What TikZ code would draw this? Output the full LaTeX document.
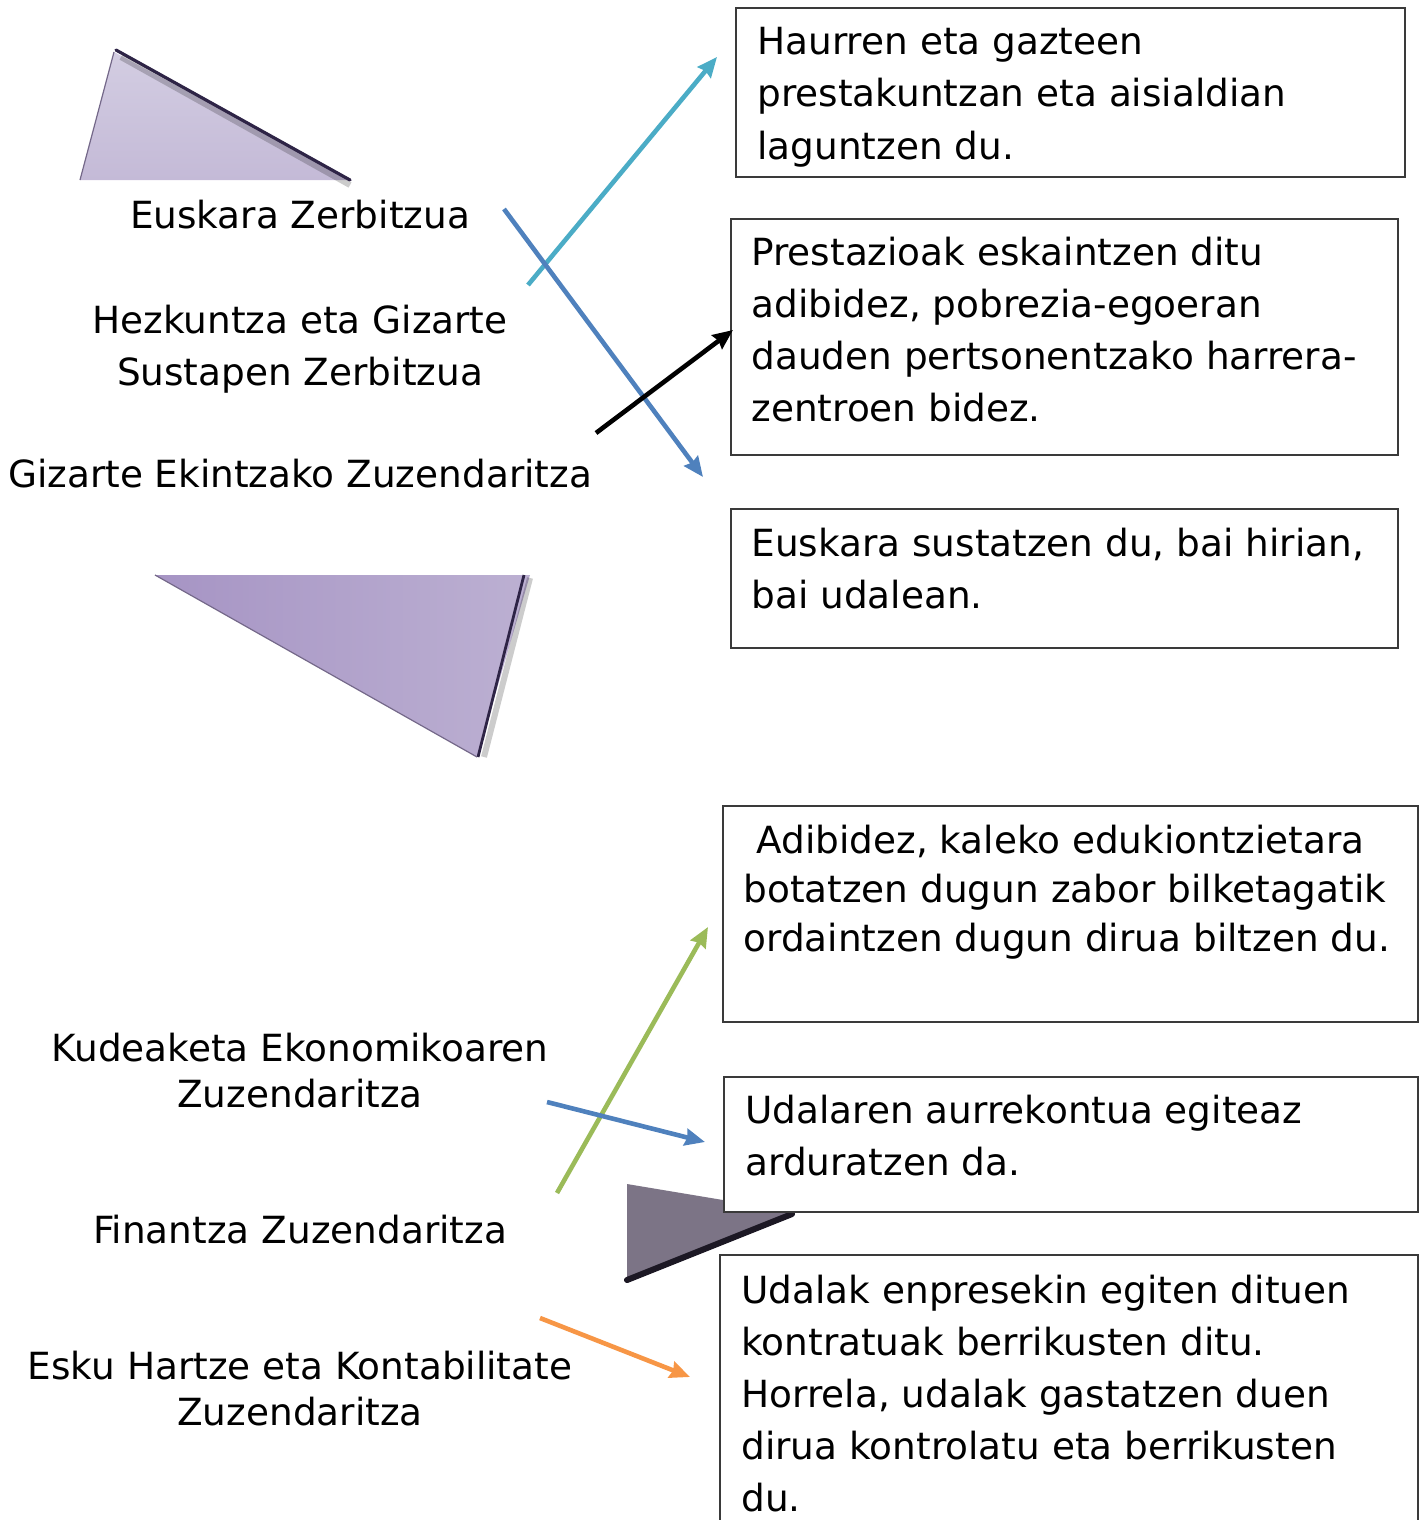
\documentclass[tikz,border=0pt]{standalone}
\usepackage{fontspec}
\setmainfont{DejaVu Sans}
\usetikzlibrary{arrows.meta}
\usetikzlibrary{fit}
\definecolor{lilacA}{HTML}{D3CDE2}
\definecolor{lilacB}{HTML}{C4BAD7}
\definecolor{lilacC}{HTML}{A694C4}
\definecolor{lilacD}{HTML}{BCB0D2}
\definecolor{plumedge}{HTML}{2E2446}
\definecolor{slate}{HTML}{7C7486}
\definecolor{slatedark}{HTML}{1C1824}
\definecolor{boxgray}{HTML}{3A3A3A}
\definecolor{arrcyan}{HTML}{4BACC6}
\definecolor{arrblue}{HTML}{4F81BD}
\definecolor{arrgreen}{HTML}{9BBB59}
\definecolor{arrorange}{HTML}{F79646}
\tikzset{box/.style={draw=boxgray, line width=0.8pt, fill=white, inner sep=0pt},
  txt/.style={font=\fontsize{18.7}{26}\selectfont, align=left, inner sep=0pt},
  lbl/.style={font=\fontsize{18.7}{23}\selectfont, align=center, inner sep=0pt},
  arr/.style={line width=2.3pt, -{Stealth[length=10pt, width=8.5pt, inset=1pt]}}}

\begin{document}
\begin{tikzpicture}[x=0.5pt, y=-0.5pt]
            \useasboundingbox (0,0) rectangle (1426,1520);
            % shapes behind
            \shade[top color=lilacA, bottom color=lilacB] (80,180) -- (114,52) -- (352,180) -- cycle;
            \draw[black, opacity=0.2, line width=3pt] (121,57) -- (350,185);
            \draw[plumedge, line width=1.6pt, line cap=round] (116,50) -- (350,180);
            \draw[lilacC!70!black, line width=0.6pt] (114,52) -- (80,180);
            \shade[shading angle=60, left color=lilacC, right color=lilacD] (155,575) -- (530,575) -- (477,757) -- cycle;
            \draw[black, opacity=0.2, line width=3pt] (530,578) -- (484,757);
            \draw[plumedge, line width=1.4pt] (524,575) -- (478,757);
            \draw[lilacC!70!black, line width=0.6pt] (155,575) -- (477,757);
            \fill[slate] (627,1184) -- (795,1212) -- (627,1282) -- cycle;
            \draw[slatedark, line width=3pt, line cap=round] (792,1214) -- (627,1280);
            % boxes
            \node[box, fit={(736,8) (1405,177)}] (box1) {};
            \node[box, fit={(731,219) (1398,455)}] (box2) {};
            \node[box, fit={(731,509) (1398,648)}] (box3) {};
            \node[box, fit={(723,806) (1418,1022)}] (box4) {};
            \node[box, fit={(724,1077) (1418,1212)}] (box5) {};
            \node[box, fit={(720,1255) (1418,1540)}] (box6) {};
            \node[txt, anchor=base west] (t1) at (757,159) {Haurren eta gazteen\\prestakuntzan eta aisialdian\\laguntzen du.};
            \node[txt, anchor=base west] (t2) at (751,421) {Prestazioak eskaintzen ditu\\adibidez, pobrezia-egoeran\\dauden pertsonentzako harrera-\\zentroen bidez.};
            \node[txt, anchor=base west] (t3) at (751,608) {Euskara sustatzen du, bai hirian,\\bai udalean.};
            \node[txt, anchor=base west, font=\fontsize{18.7}{24.5}\selectfont] (t4) at (743,951) {\hspace{6.5pt}Adibidez, kaleko edukiontzietara\\botatzen dugun zabor bilketagatik\\ordaintzen dugun dirua biltzen du.};
            \node[txt, anchor=base west] (t5) at (745,1175) {Udalaren aurrekontua egiteaz\\arduratzen da.};
            \node[txt, anchor=base west] (t6) at (741,1511) {Udalak enpresekin egiten dituen\\kontratuak berrikusten ditu.\\Horrela, udalak gastatzen duen\\dirua kontrolatu eta berrikusten\\du.};
            % labels
            \node[lbl, anchor=base] (euskara) at (300,228) {Euskara Zerbitzua};
            \node[lbl, anchor=base, font=\fontsize{18.7}{26}\selectfont] (hezkuntza) at (300,385) {Hezkuntza eta Gizarte\\Sustapen Zerbitzua};
            \node[lbl, anchor=base] (gizarte) at (300,487) {Gizarte Ekintzako Zuzendaritza};
            \node[lbl, anchor=base] (kudeaketa) at (300,1107) {Kudeaketa Ekonomikoaren\\Zuzendaritza};
            \node[lbl, anchor=base] (finantza) at (300,1243) {Finantza Zuzendaritza};
            \node[lbl, anchor=base] (esku) at (300,1425) {Esku Hartze eta Kontabilitate\\Zuzendaritza};
            % arrows
            \coordinate (c1a) at (528,285); \coordinate (c1b) at (717,57);
            \coordinate (c2a) at (504,209); \coordinate (c2b) at (703,477);
            \coordinate (c3a) at (596,433); \coordinate (c3b) at (733,330);
            \coordinate (c4a) at (557,1193); \coordinate (c4b) at (708,927);
            \coordinate (c5a) at (547,1102); \coordinate (c5b) at (705,1142);
            \coordinate (c6a) at (540,1318); \coordinate (c6b) at (690,1377);
            \draw[arr, arrcyan] (c1a) -- (c1b);
            \draw[arr, arrblue] (c2a) -- (c2b);
            \draw[arr, black] (c3a) -- (c3b);
            \draw[arr, arrgreen] (c4a) -- (c4b);
            \draw[arr, arrblue] (c5a) -- (c5b);
            \draw[arr, arrorange] (c6a) -- (c6b);
        \end{tikzpicture}
\end{document}
